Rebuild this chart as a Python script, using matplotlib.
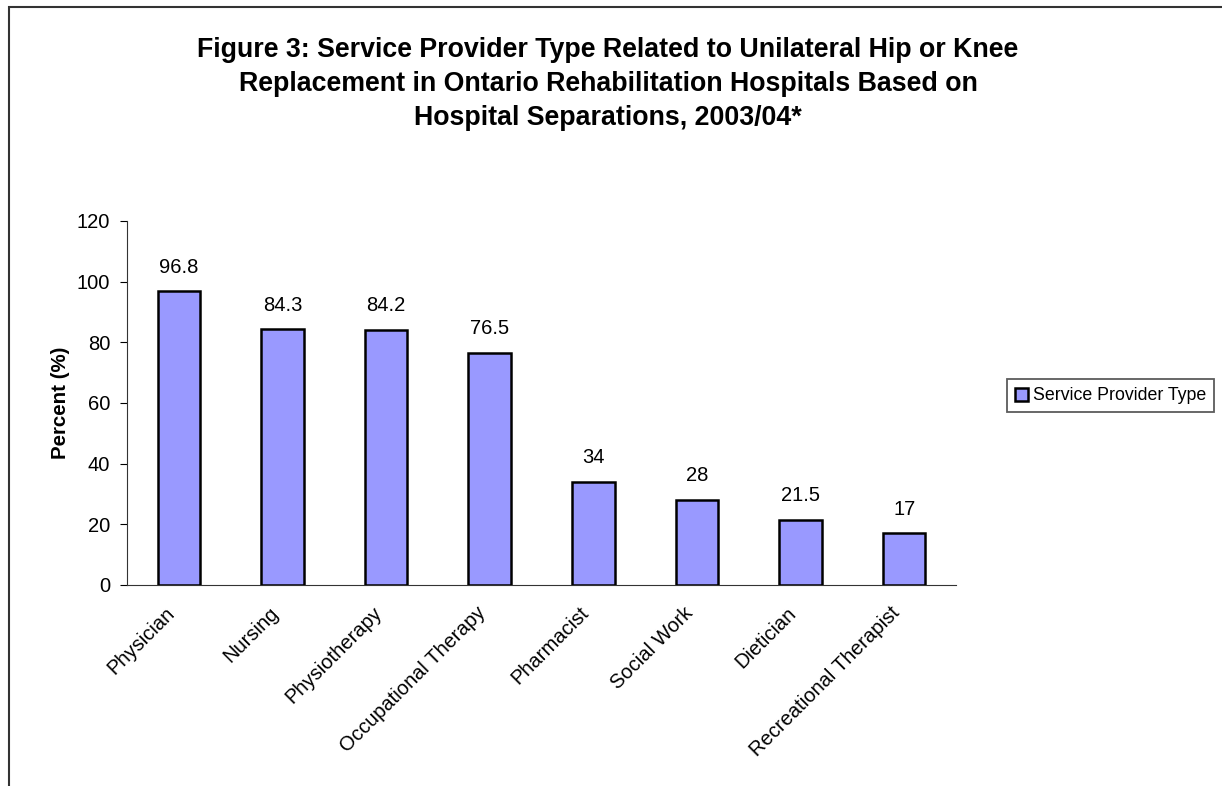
import matplotlib.pyplot as plt
import matplotlib.transforms as mtransforms
import numpy as np
from matplotlib.patches import Rectangle

plt.rcParams['font.family'] = ['Liberation Sans', 'DejaVu Sans']

categories = ['Physician', 'Nursing', 'Physiotherapy', 'Occupational Therapy',
              'Pharmacist', 'Social Work', 'Dietician', 'Recreational Therapist']
values = [96.8, 84.3, 84.2, 76.5, 34, 28, 21.5, 17]
value_labels = ['96.8', '84.3', '84.2', '76.5', '34', '28', '21.5', '17']
y_ticks = [0, 20, 40, 60, 80, 100, 120]

W, H = 1222, 786
fig = plt.figure(figsize=(W / 100, H / 100), dpi=100)

# outer chart frame (runs off the right and bottom edge)
fig.patches.append(Rectangle((9 / W, -0.01), 1.0, 1 - 7 / H + 0.01, transform=fig.transFigure,
                             fill=False, edgecolor='#333333', linewidth=1.5))

ax = fig.add_axes([127 / W, 1 - 585 / H, (956 - 127) / W, (585 - 221) / H])
x = np.arange(len(categories))
ax.bar(x, values, width=0.41, color='#9999FF', edgecolor='black', linewidth=1.8,
       label='Service Provider Type', zorder=3)

for xi, v, lab in zip(x, values, value_labels):
    ax.text(xi, v + 8, lab, ha='center', va='center', fontsize=14.5)

ax.set_xlim(-0.5, len(categories) - 0.5)
ax.set_ylim(0, 120)
ax.set_yticks(y_ticks)
ax.tick_params(axis='y', labelsize=14.5, length=5, direction='out', pad=7)
ax.set_xticks(x)
ax.set_xticklabels(categories, rotation=45, ha='right', va='center',
                   rotation_mode='anchor', fontsize=14.5)
ax.tick_params(axis='x', length=0, pad=18)
# nudge the slanted labels left so their ends sit under the bars
shift = mtransforms.ScaledTranslation(-7 / 100, 0, fig.dpi_scale_trans)
for lbl in ax.get_xticklabels():
    lbl.set_transform(lbl.get_transform() + shift)

for side in ['top', 'right']:
    ax.spines[side].set_visible(False)
ax.spines['left'].set_color('#333333')
ax.spines['bottom'].set_color('#333333')

ax.set_ylabel('Percent (%)', fontsize=14.8, fontweight='bold', labelpad=5)

fig.text(608 / W, 1 - 84 / H,
         'Figure 3: Service Provider Type Related to Unilateral Hip or Knee\n'
         'Replacement in Ontario Rehabilitation Hospitals Based on\n'
         'Hospital Separations, 2003/04*',
         ha='center', va='center', fontsize=19.3, fontweight='bold', linespacing=1.42)

leg = fig.legend(loc='center left', bbox_to_anchor=(1007 / W, 1 - 396 / H), fontsize=12.8,
                 frameon=True, fancybox=False, edgecolor='#333333', handlelength=0.75,
                 handleheight=0.75, handletextpad=0.25, borderpad=0.45, borderaxespad=0)
leg.get_frame().set_linewidth(1.3)

fig.savefig('out.png', dpi=100)
